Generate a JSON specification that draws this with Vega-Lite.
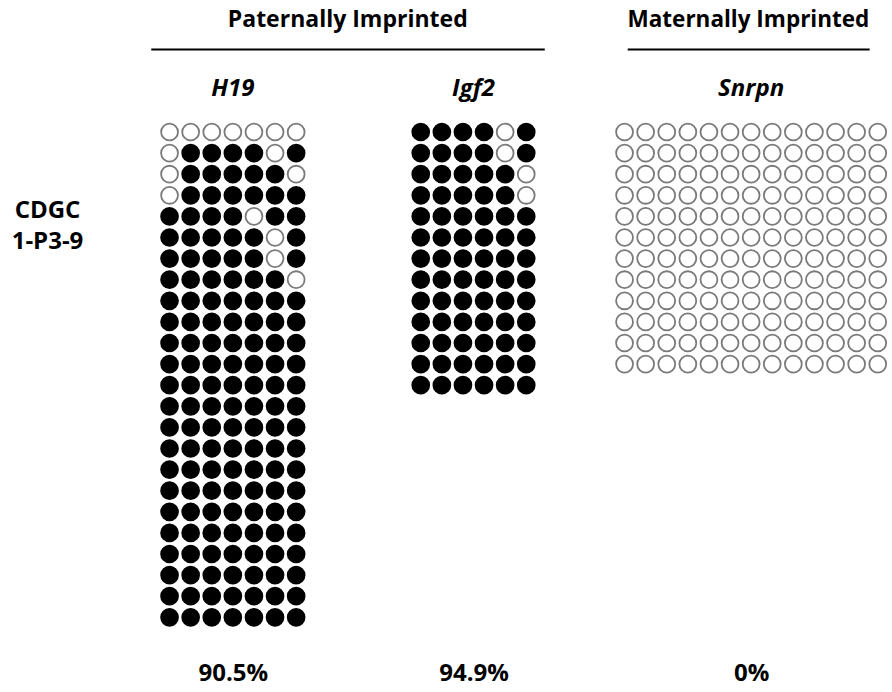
{
  "$schema": "https://vega.github.io/schema/vega-lite/v6.json",
  "background": "white",
  "padding": {"left": 11, "top": 9, "right": 0, "bottom": 6},
  "config": {
    "view": {"stroke": null},
    "font": "Open Sans",
    "title": {"font": "Open Sans", "fontSize": 24, "fontWeight": "bold", "fontStyle": "italic", "color": "black", "anchor": "middle", "baseline": "alphabetic", "offset": 19},
    "axis": {"grid": false, "domain": false, "ticks": false, "labels": false, "titleFont": "Open Sans", "titleFontWeight": "bold", "titleColor": "black"}
  },
  "datasets": {
    "h19": [
      {"r":1,"c":1,"m":0},{"r":1,"c":2,"m":0},{"r":1,"c":3,"m":0},{"r":1,"c":4,"m":0},{"r":1,"c":5,"m":0},{"r":1,"c":6,"m":0},{"r":1,"c":7,"m":0},
      {"r":2,"c":1,"m":0},{"r":2,"c":2,"m":1},{"r":2,"c":3,"m":1},{"r":2,"c":4,"m":1},{"r":2,"c":5,"m":1},{"r":2,"c":6,"m":0},{"r":2,"c":7,"m":1},
      {"r":3,"c":1,"m":0},{"r":3,"c":2,"m":1},{"r":3,"c":3,"m":1},{"r":3,"c":4,"m":1},{"r":3,"c":5,"m":1},{"r":3,"c":6,"m":1},{"r":3,"c":7,"m":0},
      {"r":4,"c":1,"m":0},{"r":4,"c":2,"m":1},{"r":4,"c":3,"m":1},{"r":4,"c":4,"m":1},{"r":4,"c":5,"m":1},{"r":4,"c":6,"m":1},{"r":4,"c":7,"m":1},
      {"r":5,"c":1,"m":1},{"r":5,"c":2,"m":1},{"r":5,"c":3,"m":1},{"r":5,"c":4,"m":1},{"r":5,"c":5,"m":0},{"r":5,"c":6,"m":1},{"r":5,"c":7,"m":1},
      {"r":6,"c":1,"m":1},{"r":6,"c":2,"m":1},{"r":6,"c":3,"m":1},{"r":6,"c":4,"m":1},{"r":6,"c":5,"m":1},{"r":6,"c":6,"m":0},{"r":6,"c":7,"m":1},
      {"r":7,"c":1,"m":1},{"r":7,"c":2,"m":1},{"r":7,"c":3,"m":1},{"r":7,"c":4,"m":1},{"r":7,"c":5,"m":1},{"r":7,"c":6,"m":0},{"r":7,"c":7,"m":1},
      {"r":8,"c":1,"m":1},{"r":8,"c":2,"m":1},{"r":8,"c":3,"m":1},{"r":8,"c":4,"m":1},{"r":8,"c":5,"m":1},{"r":8,"c":6,"m":1},{"r":8,"c":7,"m":0},
      {"r":9,"c":1,"m":1},{"r":9,"c":2,"m":1},{"r":9,"c":3,"m":1},{"r":9,"c":4,"m":1},{"r":9,"c":5,"m":1},{"r":9,"c":6,"m":1},{"r":9,"c":7,"m":1},
      {"r":10,"c":1,"m":1},{"r":10,"c":2,"m":1},{"r":10,"c":3,"m":1},{"r":10,"c":4,"m":1},{"r":10,"c":5,"m":1},{"r":10,"c":6,"m":1},{"r":10,"c":7,"m":1},
      {"r":11,"c":1,"m":1},{"r":11,"c":2,"m":1},{"r":11,"c":3,"m":1},{"r":11,"c":4,"m":1},{"r":11,"c":5,"m":1},{"r":11,"c":6,"m":1},{"r":11,"c":7,"m":1},
      {"r":12,"c":1,"m":1},{"r":12,"c":2,"m":1},{"r":12,"c":3,"m":1},{"r":12,"c":4,"m":1},{"r":12,"c":5,"m":1},{"r":12,"c":6,"m":1},{"r":12,"c":7,"m":1},
      {"r":13,"c":1,"m":1},{"r":13,"c":2,"m":1},{"r":13,"c":3,"m":1},{"r":13,"c":4,"m":1},{"r":13,"c":5,"m":1},{"r":13,"c":6,"m":1},{"r":13,"c":7,"m":1},
      {"r":14,"c":1,"m":1},{"r":14,"c":2,"m":1},{"r":14,"c":3,"m":1},{"r":14,"c":4,"m":1},{"r":14,"c":5,"m":1},{"r":14,"c":6,"m":1},{"r":14,"c":7,"m":1},
      {"r":15,"c":1,"m":1},{"r":15,"c":2,"m":1},{"r":15,"c":3,"m":1},{"r":15,"c":4,"m":1},{"r":15,"c":5,"m":1},{"r":15,"c":6,"m":1},{"r":15,"c":7,"m":1},
      {"r":16,"c":1,"m":1},{"r":16,"c":2,"m":1},{"r":16,"c":3,"m":1},{"r":16,"c":4,"m":1},{"r":16,"c":5,"m":1},{"r":16,"c":6,"m":1},{"r":16,"c":7,"m":1},
      {"r":17,"c":1,"m":1},{"r":17,"c":2,"m":1},{"r":17,"c":3,"m":1},{"r":17,"c":4,"m":1},{"r":17,"c":5,"m":1},{"r":17,"c":6,"m":1},{"r":17,"c":7,"m":1},
      {"r":18,"c":1,"m":1},{"r":18,"c":2,"m":1},{"r":18,"c":3,"m":1},{"r":18,"c":4,"m":1},{"r":18,"c":5,"m":1},{"r":18,"c":6,"m":1},{"r":18,"c":7,"m":1},
      {"r":19,"c":1,"m":1},{"r":19,"c":2,"m":1},{"r":19,"c":3,"m":1},{"r":19,"c":4,"m":1},{"r":19,"c":5,"m":1},{"r":19,"c":6,"m":1},{"r":19,"c":7,"m":1},
      {"r":20,"c":1,"m":1},{"r":20,"c":2,"m":1},{"r":20,"c":3,"m":1},{"r":20,"c":4,"m":1},{"r":20,"c":5,"m":1},{"r":20,"c":6,"m":1},{"r":20,"c":7,"m":1},
      {"r":21,"c":1,"m":1},{"r":21,"c":2,"m":1},{"r":21,"c":3,"m":1},{"r":21,"c":4,"m":1},{"r":21,"c":5,"m":1},{"r":21,"c":6,"m":1},{"r":21,"c":7,"m":1},
      {"r":22,"c":1,"m":1},{"r":22,"c":2,"m":1},{"r":22,"c":3,"m":1},{"r":22,"c":4,"m":1},{"r":22,"c":5,"m":1},{"r":22,"c":6,"m":1},{"r":22,"c":7,"m":1},
      {"r":23,"c":1,"m":1},{"r":23,"c":2,"m":1},{"r":23,"c":3,"m":1},{"r":23,"c":4,"m":1},{"r":23,"c":5,"m":1},{"r":23,"c":6,"m":1},{"r":23,"c":7,"m":1},
      {"r":24,"c":1,"m":1},{"r":24,"c":2,"m":1},{"r":24,"c":3,"m":1},{"r":24,"c":4,"m":1},{"r":24,"c":5,"m":1},{"r":24,"c":6,"m":1},{"r":24,"c":7,"m":1}
    ],
    "igf2": [
      {"r":1,"c":1,"m":1},{"r":1,"c":2,"m":1},{"r":1,"c":3,"m":1},{"r":1,"c":4,"m":1},{"r":1,"c":5,"m":0},{"r":1,"c":6,"m":1},
      {"r":2,"c":1,"m":1},{"r":2,"c":2,"m":1},{"r":2,"c":3,"m":1},{"r":2,"c":4,"m":1},{"r":2,"c":5,"m":0},{"r":2,"c":6,"m":1},
      {"r":3,"c":1,"m":1},{"r":3,"c":2,"m":1},{"r":3,"c":3,"m":1},{"r":3,"c":4,"m":1},{"r":3,"c":5,"m":1},{"r":3,"c":6,"m":0},
      {"r":4,"c":1,"m":1},{"r":4,"c":2,"m":1},{"r":4,"c":3,"m":1},{"r":4,"c":4,"m":1},{"r":4,"c":5,"m":1},{"r":4,"c":6,"m":0},
      {"r":5,"c":1,"m":1},{"r":5,"c":2,"m":1},{"r":5,"c":3,"m":1},{"r":5,"c":4,"m":1},{"r":5,"c":5,"m":1},{"r":5,"c":6,"m":1},
      {"r":6,"c":1,"m":1},{"r":6,"c":2,"m":1},{"r":6,"c":3,"m":1},{"r":6,"c":4,"m":1},{"r":6,"c":5,"m":1},{"r":6,"c":6,"m":1},
      {"r":7,"c":1,"m":1},{"r":7,"c":2,"m":1},{"r":7,"c":3,"m":1},{"r":7,"c":4,"m":1},{"r":7,"c":5,"m":1},{"r":7,"c":6,"m":1},
      {"r":8,"c":1,"m":1},{"r":8,"c":2,"m":1},{"r":8,"c":3,"m":1},{"r":8,"c":4,"m":1},{"r":8,"c":5,"m":1},{"r":8,"c":6,"m":1},
      {"r":9,"c":1,"m":1},{"r":9,"c":2,"m":1},{"r":9,"c":3,"m":1},{"r":9,"c":4,"m":1},{"r":9,"c":5,"m":1},{"r":9,"c":6,"m":1},
      {"r":10,"c":1,"m":1},{"r":10,"c":2,"m":1},{"r":10,"c":3,"m":1},{"r":10,"c":4,"m":1},{"r":10,"c":5,"m":1},{"r":10,"c":6,"m":1},
      {"r":11,"c":1,"m":1},{"r":11,"c":2,"m":1},{"r":11,"c":3,"m":1},{"r":11,"c":4,"m":1},{"r":11,"c":5,"m":1},{"r":11,"c":6,"m":1},
      {"r":12,"c":1,"m":1},{"r":12,"c":2,"m":1},{"r":12,"c":3,"m":1},{"r":12,"c":4,"m":1},{"r":12,"c":5,"m":1},{"r":12,"c":6,"m":1},
      {"r":13,"c":1,"m":1},{"r":13,"c":2,"m":1},{"r":13,"c":3,"m":1},{"r":13,"c":4,"m":1},{"r":13,"c":5,"m":1},{"r":13,"c":6,"m":1}
    ],
    "snrpn": [
      {"r":1,"c":1,"m":0},{"r":1,"c":2,"m":0},{"r":1,"c":3,"m":0},{"r":1,"c":4,"m":0},{"r":1,"c":5,"m":0},{"r":1,"c":6,"m":0},{"r":1,"c":7,"m":0},{"r":1,"c":8,"m":0},{"r":1,"c":9,"m":0},{"r":1,"c":10,"m":0},{"r":1,"c":11,"m":0},{"r":1,"c":12,"m":0},{"r":1,"c":13,"m":0},
      {"r":2,"c":1,"m":0},{"r":2,"c":2,"m":0},{"r":2,"c":3,"m":0},{"r":2,"c":4,"m":0},{"r":2,"c":5,"m":0},{"r":2,"c":6,"m":0},{"r":2,"c":7,"m":0},{"r":2,"c":8,"m":0},{"r":2,"c":9,"m":0},{"r":2,"c":10,"m":0},{"r":2,"c":11,"m":0},{"r":2,"c":12,"m":0},{"r":2,"c":13,"m":0},
      {"r":3,"c":1,"m":0},{"r":3,"c":2,"m":0},{"r":3,"c":3,"m":0},{"r":3,"c":4,"m":0},{"r":3,"c":5,"m":0},{"r":3,"c":6,"m":0},{"r":3,"c":7,"m":0},{"r":3,"c":8,"m":0},{"r":3,"c":9,"m":0},{"r":3,"c":10,"m":0},{"r":3,"c":11,"m":0},{"r":3,"c":12,"m":0},{"r":3,"c":13,"m":0},
      {"r":4,"c":1,"m":0},{"r":4,"c":2,"m":0},{"r":4,"c":3,"m":0},{"r":4,"c":4,"m":0},{"r":4,"c":5,"m":0},{"r":4,"c":6,"m":0},{"r":4,"c":7,"m":0},{"r":4,"c":8,"m":0},{"r":4,"c":9,"m":0},{"r":4,"c":10,"m":0},{"r":4,"c":11,"m":0},{"r":4,"c":12,"m":0},{"r":4,"c":13,"m":0},
      {"r":5,"c":1,"m":0},{"r":5,"c":2,"m":0},{"r":5,"c":3,"m":0},{"r":5,"c":4,"m":0},{"r":5,"c":5,"m":0},{"r":5,"c":6,"m":0},{"r":5,"c":7,"m":0},{"r":5,"c":8,"m":0},{"r":5,"c":9,"m":0},{"r":5,"c":10,"m":0},{"r":5,"c":11,"m":0},{"r":5,"c":12,"m":0},{"r":5,"c":13,"m":0},
      {"r":6,"c":1,"m":0},{"r":6,"c":2,"m":0},{"r":6,"c":3,"m":0},{"r":6,"c":4,"m":0},{"r":6,"c":5,"m":0},{"r":6,"c":6,"m":0},{"r":6,"c":7,"m":0},{"r":6,"c":8,"m":0},{"r":6,"c":9,"m":0},{"r":6,"c":10,"m":0},{"r":6,"c":11,"m":0},{"r":6,"c":12,"m":0},{"r":6,"c":13,"m":0},
      {"r":7,"c":1,"m":0},{"r":7,"c":2,"m":0},{"r":7,"c":3,"m":0},{"r":7,"c":4,"m":0},{"r":7,"c":5,"m":0},{"r":7,"c":6,"m":0},{"r":7,"c":7,"m":0},{"r":7,"c":8,"m":0},{"r":7,"c":9,"m":0},{"r":7,"c":10,"m":0},{"r":7,"c":11,"m":0},{"r":7,"c":12,"m":0},{"r":7,"c":13,"m":0},
      {"r":8,"c":1,"m":0},{"r":8,"c":2,"m":0},{"r":8,"c":3,"m":0},{"r":8,"c":4,"m":0},{"r":8,"c":5,"m":0},{"r":8,"c":6,"m":0},{"r":8,"c":7,"m":0},{"r":8,"c":8,"m":0},{"r":8,"c":9,"m":0},{"r":8,"c":10,"m":0},{"r":8,"c":11,"m":0},{"r":8,"c":12,"m":0},{"r":8,"c":13,"m":0},
      {"r":9,"c":1,"m":0},{"r":9,"c":2,"m":0},{"r":9,"c":3,"m":0},{"r":9,"c":4,"m":0},{"r":9,"c":5,"m":0},{"r":9,"c":6,"m":0},{"r":9,"c":7,"m":0},{"r":9,"c":8,"m":0},{"r":9,"c":9,"m":0},{"r":9,"c":10,"m":0},{"r":9,"c":11,"m":0},{"r":9,"c":12,"m":0},{"r":9,"c":13,"m":0},
      {"r":10,"c":1,"m":0},{"r":10,"c":2,"m":0},{"r":10,"c":3,"m":0},{"r":10,"c":4,"m":0},{"r":10,"c":5,"m":0},{"r":10,"c":6,"m":0},{"r":10,"c":7,"m":0},{"r":10,"c":8,"m":0},{"r":10,"c":9,"m":0},{"r":10,"c":10,"m":0},{"r":10,"c":11,"m":0},{"r":10,"c":12,"m":0},{"r":10,"c":13,"m":0},
      {"r":11,"c":1,"m":0},{"r":11,"c":2,"m":0},{"r":11,"c":3,"m":0},{"r":11,"c":4,"m":0},{"r":11,"c":5,"m":0},{"r":11,"c":6,"m":0},{"r":11,"c":7,"m":0},{"r":11,"c":8,"m":0},{"r":11,"c":9,"m":0},{"r":11,"c":10,"m":0},{"r":11,"c":11,"m":0},{"r":11,"c":12,"m":0},{"r":11,"c":13,"m":0},
      {"r":12,"c":1,"m":0},{"r":12,"c":2,"m":0},{"r":12,"c":3,"m":0},{"r":12,"c":4,"m":0},{"r":12,"c":5,"m":0},{"r":12,"c":6,"m":0},{"r":12,"c":7,"m":0},{"r":12,"c":8,"m":0},{"r":12,"c":9,"m":0},{"r":12,"c":10,"m":0},{"r":12,"c":11,"m":0},{"r":12,"c":12,"m":0},{"r":12,"c":13,"m":0}
    ]
  },
  "hconcat": [
    {
      "vconcat": [
        {
          "width": 377.5,
          "height": 29.5,
          "data": {"values": [{"group": "Paternally Imprinted"}]},
          "layer": [
            {
              "mark": {"type": "text", "font": "Open Sans", "fontSize": 23, "fontWeight": "bold", "color": "black", "baseline": "middle"},
              "encoding": {
                "text": {"field": "group"},
                "x": {"datum": 0.5, "type": "quantitative", "scale": {"domain": [0, 1], "nice": false, "zero": false}, "axis": null},
                "y": {"datum": 1, "type": "quantitative", "scale": {"domain": [0, 1], "nice": false}, "axis": null}
              }
            },
            {
              "mark": {"type": "rule", "color": "black", "strokeWidth": 2},
              "encoding": {
                "x": {"datum": -0.0205, "type": "quantitative", "scale": {"domain": [0, 1], "nice": false, "zero": false}, "axis": null},
                "x2": {"datum": 1.0219},
                "y": {"datum": 0, "type": "quantitative", "scale": {"domain": [0, 1], "nice": false}, "axis": null}
              }
            }
          ]
        },
        {
          "hconcat": [
            {
              "width": 147.7,
              "height": 506.4,
              "data": {"name": "h19"},
              "title": {"text": "H19"},
              "mark": {"type": "point", "shape": "circle", "size": 285, "strokeWidth": 1.8, "opacity": 1},
              "encoding": {
                "x": {"field": "c", "type": "quantitative", "scale": {"domain": [0.5, 7.5], "nice": false, "zero": false},
                      "axis": {"title": "90.5%", "titleFontSize": 24, "titleBaseline": "alphabetic", "titlePadding": 53}},
                "y": {"field": "r", "type": "quantitative", "scale": {"domain": [0.5, 24.5], "nice": false, "zero": false, "reverse": true},
                      "axis": {"title": ["CDGC", "1-P3-9"], "titleFontSize": 24, "titleAngle": 0, "titleAlign": "center", "titleBaseline": "middle", "titleLineHeight": 31, "titleX": -112, "titleY": 89}},
                "fill": {"field": "m", "type": "nominal", "scale": {"domain": [1, 0], "range": ["#000000", "#ffffff"]}, "legend": null},
                "stroke": {"field": "m", "type": "nominal", "scale": {"domain": [1, 0], "range": ["#000000", "#7a7a7a"]}, "legend": null}
              }
            },
            {
              "width": 126.6,
              "height": 506.4,
              "data": {"name": "igf2"},
              "title": {"text": "Igf2"},
              "mark": {"type": "point", "shape": "circle", "size": 285, "strokeWidth": 1.8, "opacity": 1},
              "encoding": {
                "x": {"field": "c", "type": "quantitative", "scale": {"domain": [0.5, 6.5], "nice": false, "zero": false},
                      "axis": {"title": "94.9%", "titleFontSize": 24, "titleBaseline": "alphabetic", "titlePadding": 53}},
                "y": {"field": "r", "type": "quantitative", "scale": {"domain": [0.5, 24.5], "nice": false, "zero": false, "reverse": true}, "axis": null},
                "fill": {"field": "m", "type": "nominal", "scale": {"domain": [1, 0], "range": ["#000000", "#ffffff"]}, "legend": null},
                "stroke": {"field": "m", "type": "nominal", "scale": {"domain": [1, 0], "range": ["#000000", "#7a7a7a"]}, "legend": null}
              }
            }
          ],
          "spacing": 103.2,
          "bounds": "flush"
        }
      ],
      "spacing": 71.45,
      "bounds": "flush"
    },
    {
      "vconcat": [
        {
          "width": 274.3,
          "height": 29.5,
          "data": {"values": [{"group": "Maternally Imprinted"}]},
          "layer": [
            {
              "mark": {"type": "text", "font": "Open Sans", "fontSize": 22.5, "fontWeight": "bold", "color": "black", "baseline": "middle"},
              "encoding": {
                "text": {"field": "group"},
                "x": {"datum": 0.49, "type": "quantitative", "scale": {"domain": [0, 1], "nice": false, "zero": false}, "axis": null},
                "y": {"datum": 1, "type": "quantitative", "scale": {"domain": [0, 1], "nice": false}, "axis": null}
              }
            },
            {
              "mark": {"type": "rule", "color": "black", "strokeWidth": 2},
              "encoding": {
                "x": {"datum": 0.05, "type": "quantitative", "scale": {"domain": [0, 1], "nice": false, "zero": false}, "axis": null},
                "x2": {"datum": 0.932},
                "y": {"datum": 0, "type": "quantitative", "scale": {"domain": [0, 1], "nice": false}, "axis": null}
              }
            }
          ]
        },
        {
          "width": 274.3,
          "height": 506.4,
          "data": {"name": "snrpn"},
          "title": {"text": "Snrpn"},
          "mark": {"type": "point", "shape": "circle", "size": 285, "strokeWidth": 1.8, "opacity": 1},
          "encoding": {
            "x": {"field": "c", "type": "quantitative", "scale": {"domain": [0.5, 13.5], "nice": false, "zero": false},
                  "axis": {"title": "0%", "titleFontSize": 24, "titleBaseline": "alphabetic", "titlePadding": 53}},
            "y": {"field": "r", "type": "quantitative", "scale": {"domain": [0.5, 24.5], "nice": false, "zero": false, "reverse": true}, "axis": null},
            "fill": {"field": "m", "type": "nominal", "scale": {"domain": [1, 0], "range": ["#000000", "#ffffff"]}, "legend": null},
            "stroke": {"field": "m", "type": "nominal", "scale": {"domain": [1, 0], "range": ["#000000", "#7a7a7a"]}, "legend": null}
          }
        }
      ],
      "spacing": 71.45,
      "bounds": "flush"
    }
  ],
  "spacing": 66
}
